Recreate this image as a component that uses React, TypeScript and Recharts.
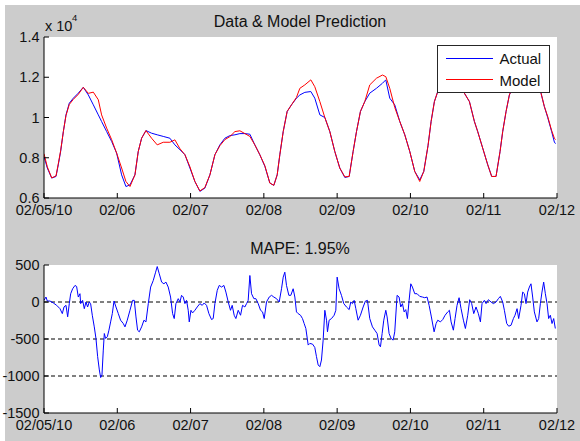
import React from 'react';
import { LineChart, Line, XAxis, YAxis, ReferenceLine, CartesianGrid, Legend } from 'recharts';

// ---------- data ----------
const xTickPositions = [0, 1, 2, 3, 4, 5, 6, 7];
const xTickLabels = ['02/05/10', '02/06', '02/07', '02/08', '02/09', '02/10', '02/11', '02/12'];
const topYTicks = [6000, 8000, 10000, 12000, 14000];
const errYTicks = [-1500, -1000, -500, 0, 500];
const errRefLevels = [0, -500, -1000];

const topTitle = 'Data & Model Prediction';
const errTitle = 'MAPE: 1.95%';
const seriesNames = ['Actual', 'Model'];

const topT = [
  0.0, 0.045, 0.105, 0.164, 0.195, 0.227, 0.264, 0.3, 0.345, 0.4, 0.468, 0.536, 0.605, 0.673, 0.741, 0.786,
  0.855, 0.923, 0.991, 1.059, 1.118, 1.173, 1.241, 1.286, 1.332, 1.391, 1.468, 1.545, 1.627, 1.718, 1.786,
  1.855, 1.923, 1.991, 2.059, 2.127, 2.195, 2.264, 2.332, 2.4, 2.468, 2.536, 2.605, 2.673, 2.741, 2.809,
  2.877, 2.945, 3.014, 3.082, 3.136, 3.182, 3.218, 3.264, 3.318, 3.377, 3.445, 3.491, 3.559, 3.641, 3.695,
  3.764, 3.832, 3.9, 3.968, 4.036, 4.105, 4.164, 4.218, 4.264, 4.318, 4.377, 4.445, 4.536, 4.618, 4.664,
  4.718, 4.786, 4.855, 4.923, 4.991, 5.059, 5.127, 5.182, 5.24, 5.282, 5.327, 5.373, 5.45, 5.55, 5.65,
  5.736, 5.805, 5.873, 5.918, 5.986, 6.055, 6.109, 6.168, 6.223, 6.259, 6.305, 6.35, 6.45, 6.55, 6.65,
  6.782, 6.827, 6.873, 6.927, 6.964, 6.98,
];
const actualValues = [
  8060, 7490, 6990, 7070, 7650, 8310, 9300, 10130, 10710, 10960, 11210, 11500, 11120, 10630, 10130, 9800,
  9300, 8810, 8230, 7150, 6570, 6650, 7150, 8310, 8970, 9350, 9220, 9140, 9060, 8970, 8640,
  8400, 8150, 7490, 6820, 6330, 6490, 7150, 8150, 8640, 8970, 9100, 9140, 9200, 9200, 9170,
  8640, 8150, 7570, 6740, 6630, 7150, 8150, 9300, 10300, 10630, 10960, 11120, 11250, 11290, 10960,
  10130, 10000, 9300, 8310, 7490, 7020, 7070, 8310, 9300, 10300, 10790, 11210, 11450, 11700, 11870,
  10960, 10630, 9800, 9140, 8310, 7320, 6900, 7320, 8600, 9800, 10790, 11290, 11900, 12200, 11900,
  11210, 10790, 9800, 9300, 8480, 7650, 7070, 7070, 8310, 9300, 10300, 11120, 11900, 12150, 11900,
  11210, 10550, 10000, 9300, 8780, 8700,
];
const modelValues = [
  8200, 7550, 7000, 7100, 7700, 8350, 9300, 10100, 10650, 10900, 11150, 11500, 11200, 11260, 10880, 10130,
  9470, 8900, 8230, 7490, 6820, 6570, 7150, 8310, 8970, 9350, 8970, 8640, 8770, 8770, 8890,
  8450, 8150, 7550, 6820, 6350, 6520, 7150, 8150, 8600, 8900, 9050, 9300, 9340, 9200, 9060,
  8640, 8150, 7600, 6740, 6630, 7150, 8150, 9300, 10300, 10630, 11000, 11450, 11620, 11870, 11530,
  10790, 10000, 9300, 8310, 7490, 7050, 7070, 8310, 9300, 10300, 10790, 11620, 11950, 12110, 12030,
  11450, 10500, 9800, 9140, 8310, 7320, 6820, 7320, 8600, 9800, 10790, 11290, 11900, 12250, 11950,
  11210, 10790, 9800, 9300, 8480, 7650, 7070, 7070, 8310, 9300, 10300, 11120, 11950, 12200, 11950,
  11210, 10550, 10050, 9350, 8970, 8900,
];

const errT = [
  0.0, 0.027, 0.045, 0.082, 0.127, 0.173, 0.218, 0.25, 0.273, 0.3, 0.323, 0.345, 0.364, 0.391, 0.423, 0.445,
  0.468, 0.491, 0.5, 0.527, 0.55, 0.573, 0.595, 0.618, 0.636, 0.659, 0.686, 0.709, 0.732, 0.755, 0.773,
  0.791, 0.809, 0.823, 0.841, 0.864, 0.886, 0.909, 0.932, 0.955, 0.982, 1.014, 1.045, 1.082, 1.105, 1.136,
  1.173, 1.209, 1.232, 1.255, 1.277, 1.3, 1.332, 1.364, 1.391, 1.423, 1.455, 1.491, 1.523, 1.545, 1.573,
  1.605, 1.636, 1.664, 1.695, 1.727, 1.755, 1.777, 1.8, 1.832, 1.855, 1.877, 1.9, 1.923, 1.945, 1.968,
  1.982, 2.005, 2.027, 2.059, 2.091, 2.127, 2.159, 2.186, 2.218, 2.25, 2.286, 2.309, 2.332, 2.364, 2.391,
  2.423, 2.455, 2.482, 2.514, 2.545, 2.568, 2.595, 2.618, 2.65, 2.682, 2.709, 2.741, 2.764, 2.786, 2.809,
  2.832, 2.864, 2.891, 2.923, 2.955, 2.982, 3.005, 3.036, 3.073, 3.105, 3.136, 3.173, 3.209, 3.241, 3.264,
  3.286, 3.309, 3.341, 3.368, 3.4, 3.423, 3.445, 3.468, 3.5, 3.527, 3.55, 3.573, 3.605, 3.627, 3.664,
  3.695, 3.718, 3.741, 3.764, 3.786, 3.809, 3.832, 3.855, 3.868, 3.891, 3.923, 3.959, 3.982, 4.0, 4.027,
  4.059, 4.091, 4.127, 4.164, 4.186, 4.209, 4.232, 4.255, 4.286, 4.318, 4.355, 4.386, 4.414, 4.445, 4.482,
  4.514, 4.545, 4.573, 4.591, 4.614, 4.636, 4.664, 4.682, 4.709, 4.736, 4.764, 4.786, 4.818, 4.845, 4.868,
  4.891, 4.914, 4.936, 4.959, 4.982, 5.005, 5.027, 5.059, 5.091, 5.127, 5.164, 5.195, 5.227, 5.255, 5.286,
  5.323, 5.35, 5.373, 5.409, 5.441, 5.473, 5.509, 5.532, 5.555, 5.586, 5.609, 5.636, 5.664, 5.691, 5.723,
  5.75, 5.782, 5.809, 5.836, 5.864, 5.895, 5.927, 5.955, 5.977, 6.009, 6.032, 6.064, 6.1, 6.132, 6.168,
  6.2, 6.227, 6.259, 6.282, 6.314, 6.341, 6.373, 6.405, 6.427, 6.455, 6.477, 6.509, 6.532, 6.555, 6.577,
  6.6, 6.623, 6.645, 6.668, 6.691, 6.727, 6.75, 6.773, 6.795, 6.818, 6.841, 6.864, 6.886, 6.909, 6.932,
  6.955, 6.977,
];
const errValues = [
  22, 67, 13, 13, -13, -45, -90, -157, -67, -45, -200, -22, 112, 179, 224, 210,
  67, 112, -22, 22, -90, 0, -67, 0, -22, -179, -336, -493, -739, -918, -1021,
  -986, -650, -426, -493, -470, -381, -269, -157, 13, -67, -157, -246, -291, -336, -246,
  -112, 22, 22, -202, -381, -403, -336, -246, -269, -22, 202, 291, 403, 479, 381,
  269, 246, 269, 202, 67, -157, -224, -22, 45, 0, 90, 67, -22, 22, -112,
  -269, -112, -148, -112, -67, -22, -45, -13, -45, -157, -237, -224, -22, 157, 224,
  202, 224, 134, 0, -112, -45, -179, -224, -112, -179, -45, -67, -22, 22, 358,
  112, 45, 45, -22, -112, -134, -224, 0, 67, 90, 67, 45, 0, 179, 336,
  403, 224, 90, 90, 179, 67, -134, -157, -179, -224, -291, -358, -582, -560, -569,
  -614, -739, -851, -874, -784, -515, -112, -246, -403, -246, -224, -179, -112, 336, 179,
  90, -22, -67, -103, 0, -22, 22, -90, -246, -179, -67, 13, 22, -224, -336,
  -381, -426, -582, -605, -426, -246, -112, -202, -426, -493, -515, -403, 90, 67, -67,
  -22, -134, -103, -224, 22, 246, 202, 112, 112, 76, 67, 58, 67, -45, -202,
  -403, -291, -246, -269, -237, -179, -134, -112, -269, -381, -224, -45, 58, -90, -246,
  -358, -179, 31, -22, -157, -67, -157, -269, -22, 22, -22, 31, 0, -22, 0,
  45, 76, 0, -112, -291, -327, -314, -224, -179, -90, -224, -45, 134, 112, -22,
  134, 202, 246, 67, -134, -269, -224, -22, 134, 269, 112, -22, -224, -179, -291,
  -224, -358,
];

const topData = topT.map((t, i) => ({ t, actual: actualValues[i], model: modelValues[i] }));
const errData = errT.map((t, i) => ({ t, err: errValues[i] }));

// ---------- style ----------
const FONT = '"Liberation Sans", Arial, Helvetica, sans-serif';
const TEXT = '#111';
const TICK_FONT = 14.5;
const fmtX = (v: number) => xTickLabels[xTickPositions.indexOf(v)] ?? '';

const LegendBox = (props: any) => {
  const payload = props.payload || [];
  return (
    <svg width={114} height={48} style={{ display: 'block' }}>
      <rect x={0.5} y={0.5} width={112} height={47} fill="#fff" stroke="#262626" strokeWidth={1} />
      {payload.map((p: any, i: number) => (
        <g key={p.value}>
          <line x1={9} x2={56} y1={13.5 + i * 21} y2={13.5 + i * 21} stroke={p.color} strokeWidth={1} />
          <text x={62.5} y={19 + i * 21.5} fontSize={15} fill={TEXT} fontFamily={FONT}>{p.value}</text>
        </g>
      ))}
    </svg>
  );
};

const axisCommon = {
  stroke: '#000',
  tickSize: -5,
  axisLine: { stroke: '#000', strokeWidth: 1 },
  tickLine: { stroke: '#000', strokeWidth: 1 },
  allowDataOverflow: true,
};

export default function App() {
  return (
    <div style={{ position: 'absolute', left: 0, top: 0, width: 580, height: 441, background: '#fff', overflow: 'hidden' }}>
      <div style={{ position: 'absolute', left: 5, top: 5, width: 575, height: 436, background: '#cccccc' }} />

      <div style={{ position: 'absolute', left: 0, top: 0 }}>
        <LineChart width={580} height={228} data={topData} margin={{ top: 37, right: 23, bottom: 0, left: 0 }} style={{ fontFamily: FONT }}>
          <CartesianGrid horizontal={false} vertical={false} fill="#fff" fillOpacity={1} />
          <XAxis {...axisCommon} dataKey="t" type="number" domain={[0, 7]} ticks={xTickPositions} interval={0}
            tickFormatter={fmtX} height={30} tickMargin={12} tick={{ fill: TEXT, fontSize: TICK_FONT }} />
          <XAxis {...axisCommon} xAxisId="top" orientation="top" type="number" domain={[0, 7]} ticks={xTickPositions}
            interval={0} height={0} tick={false} />
          <YAxis {...axisCommon} type="number" domain={[6000, 14000]} ticks={topYTicks} interval={0} width={44}
            tickMargin={9.5} tickFormatter={(v: number) => String(v / 10000)} tick={{ fill: TEXT, fontSize: TICK_FONT }} />
          <YAxis {...axisCommon} yAxisId="right" orientation="right" type="number" domain={[6000, 14000]} ticks={topYTicks}
            interval={0} width={0} tick={false} />
          <Line dataKey="actual" name={seriesNames[0]} type="linear" stroke="#0000ff" strokeWidth={1} dot={false} isAnimationActive={false} />
          <Line dataKey="model" name={seriesNames[1]} type="linear" stroke="#ff0000" strokeWidth={1} dot={false} isAnimationActive={false} />
          <Legend layout="vertical" align="center" verticalAlign="middle" content={<LegendBox />}
            wrapperStyle={{ left: 437, top: 45, width: 114, height: 48 }} />
        </LineChart>
      </div>

      <div style={{ position: 'absolute', left: 0, top: 228 }}>
        <LineChart width={580} height={213} data={errData} margin={{ top: 37, right: 23, bottom: 0, left: 0 }} style={{ fontFamily: FONT }}>
          <CartesianGrid horizontal={false} vertical={false} fill="#fff" fillOpacity={1} />
          <XAxis {...axisCommon} dataKey="t" type="number" domain={[0, 7]} ticks={xTickPositions} interval={0}
            tickFormatter={fmtX} height={28} tickMargin={12} tick={{ fill: TEXT, fontSize: TICK_FONT }} />
          <XAxis {...axisCommon} xAxisId="top" orientation="top" type="number" domain={[0, 7]} ticks={xTickPositions}
            interval={0} height={0} tick={false} />
          <YAxis {...axisCommon} type="number" domain={[-1500, 500]} ticks={errYTicks} interval={0} width={44}
            tickMargin={9.5} tick={{ fill: TEXT, fontSize: TICK_FONT }} />
          <YAxis {...axisCommon} yAxisId="right" orientation="right" type="number" domain={[-1500, 500]} ticks={errYTicks}
            interval={0} width={0} tick={false} />
          {errRefLevels.map((lv) => (
            <ReferenceLine key={lv} y={lv} stroke="#000" strokeWidth={1} strokeDasharray="4 3" />
          ))}
          <Line dataKey="err" type="linear" stroke="#0000ff" strokeWidth={1} dot={false} isAnimationActive={false} />
        </LineChart>
      </div>

      <svg width={580} height={441} style={{ position: 'absolute', left: 0, top: 0, pointerEvents: 'none' }} fontFamily={FONT}>
        <text x={300} y={26.5} textAnchor="middle" fontSize={16} fill={TEXT}>{topTitle}</text>
        <text x={45} y={30.7} fontSize={TICK_FONT} fill={TEXT}>x 10</text>
        <text x={72} y={21} fontSize={9.5} fill={TEXT}>4</text>
        <text x={300} y={253.5} textAnchor="middle" fontSize={16} fill={TEXT}>{errTitle}</text>
      </svg>
    </div>
  );
}
